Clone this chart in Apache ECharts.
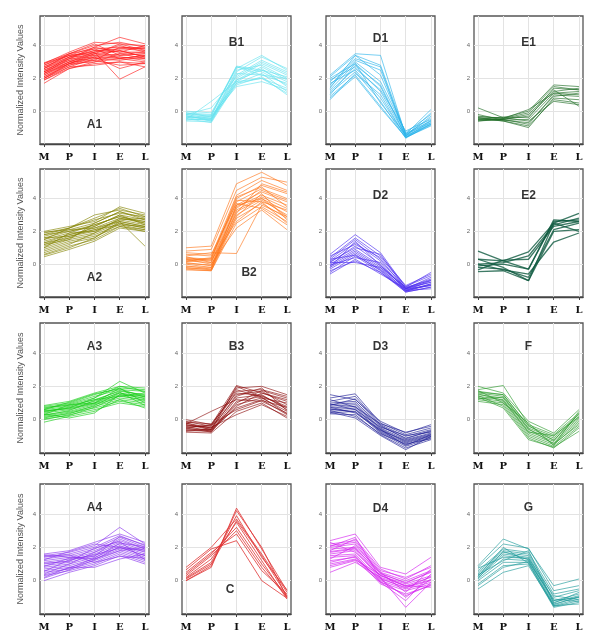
<!DOCTYPE html>
<html><head><meta charset="utf-8">
<script src="https://cdn.jsdelivr.net/npm/echarts@6/dist/echarts.min.js"></script>
<style>html,body{margin:0;padding:0;background:#fff}#c{width:600px;height:643px}</style>
</head><body><div id="c"></div><script>
// ---------- data ----------
const stages = ['M','P','I','E','L'];
const yTickValues = [0, 2, 4];
const panelNames = ['A1','B1','D1','E1','A2','B2','D2','E2','A3','B3','D3','F','A4','C','D4','G'];

const A1 = [
[2.9,3.6,4.2,4.1,4.0],[2.8,3.5,4.0,4.2,3.9],[2.7,3.4,3.9,4.5,4.1],[2.6,3.3,3.8,3.9,3.8],
[2.5,3.2,3.7,3.6,3.6],[2.4,3.1,3.6,3.8,3.7],[2.3,3.0,3.5,3.4,3.5],[2.2,2.9,3.4,3.7,3.3],
[2.1,2.8,3.3,3.5,3.2],[2.0,2.7,3.2,3.3,3.1],[1.9,2.6,3.0,3.2,3.0],[1.7,2.6,2.9,3.0,2.9],
[2.95,3.5,3.8,3.2,3.4],[2.6,3.2,3.3,2.6,3.0],[2.4,3.0,3.1,2.8,2.9],[2.2,3.0,3.6,1.95,2.7],
[2.0,2.8,3.1,3.9,3.8],[2.8,3.4,3.6,4.0,3.6],[2.5,3.1,3.2,3.1,3.3],[2.3,3.2,3.9,3.6,4.0],
[2.7,3.3,3.4,3.3,3.2],[2.1,2.9,3.5,4.1,3.7],[1.9,2.7,2.8,3.0,2.7],[2.6,3.5,4.1,3.4,3.5],
[2.4,3.3,3.7,3.8,3.9],[2.0,2.9,3.3,3.2,3.4],[2.9,3.4,3.5,3.7,3.3],[2.3,2.9,3.0,3.5,3.6]
];
const B1 = [
[-0.1,-0.2,2.75,2.5,1.8],[-0.2,-0.3,2.7,2.4,1.6],[-0.15,-0.25,2.7,2.2,2.0],[-0.3,-0.5,2.4,3.3,2.6],
[-0.4,-0.6,2.2,3.1,2.4],[-0.5,-0.5,2.0,2.9,2.2],[-0.35,-0.4,1.9,2.7,1.9],[-0.25,-0.6,1.8,2.6,1.5],
[-0.45,-0.7,1.7,2.3,1.2],[-0.55,-0.45,1.6,2.1,1.0],[-0.2,0.2,2.1,3.0,2.3],[-0.1,-0.35,1.5,1.8,1.3],
[-0.3,-0.55,2.3,2.2,1.7],[-0.6,-0.65,1.9,2.5,2.1],[0.0,-0.1,2.6,3.4,2.5],[-0.4,-0.3,1.7,2.0,1.4],
[-0.2,-0.45,2.5,2.8,2.0],[-0.5,0.6,1.8,2.0,1.1]
];
const D1 = [
[2.2,3.5,3.4,-1.5,-0.3],[2.1,3.4,2.8,-1.4,0.1],[1.8,3.2,2.7,-1.6,-0.6],[1.5,3.0,1.8,-1.3,-0.2],
[1.0,2.8,1.6,-1.5,-0.8],[1.2,2.6,1.3,-1.2,-0.5],[0.7,2.3,1.0,-1.6,-0.9],[1.7,2.5,0.8,-1.55,-0.7],
[2.0,2.9,0.5,-1.45,-0.4],[0.9,2.2,0.3,-1.6,-0.85],[1.4,3.4,2.2,-1.35,-0.6],[1.1,2.4,0.6,-1.65,-0.75],
[1.9,2.7,1.2,-1.5,-0.1],[1.6,3.1,2.5,-1.4,-0.7],[0.8,2.1,0.2,-1.6,-0.8],[1.3,2.9,1.5,-1.5,-0.55]
];
const E1 = [
[0.2,-0.4,0.0,1.6,1.5],[-0.3,-0.45,-0.1,1.5,1.3],[-0.4,-0.5,-0.3,1.2,1.4],[-0.5,-0.55,-0.5,1.1,1.2],
[-0.6,-0.5,-0.8,1.0,0.9],[-0.45,-0.6,-1.0,0.8,0.7],[-0.35,-0.4,-0.6,0.6,0.4],[-0.55,-0.5,-0.2,1.3,0.3],
[-0.2,-0.55,-0.7,0.9,1.1],[-0.6,-0.45,0.1,1.1,1.0],[-0.4,-0.6,-0.9,0.7,0.5],[-0.5,-0.35,-0.4,1.4,1.3]
];
const A2 = [
[2.0,2.3,2.6,3.5,3.1],[1.9,2.2,3.0,3.3,3.0],[1.8,2.2,2.8,3.4,2.9],[1.7,2.1,2.5,3.2,2.8],
[1.6,2.0,2.3,3.0,2.7],[1.5,1.9,2.4,2.9,2.6],[1.4,1.8,2.2,2.8,2.5],[1.3,1.8,2.1,2.7,2.4],
[1.2,1.7,2.0,2.6,2.3],[1.1,1.6,1.9,2.5,2.2],[1.0,1.5,1.8,2.4,2.1],[0.9,1.4,1.7,2.3,2.0],
[0.8,1.3,1.6,2.5,2.2],[0.6,1.1,1.5,2.3,2.1],[0.45,0.9,1.4,2.2,2.0],[1.95,2.1,2.2,2.6,1.1],
[1.5,2.2,2.7,3.1,2.9],[0.7,1.2,1.9,2.8,2.6],[1.3,1.6,2.3,3.0,2.4],[1.0,1.9,2.0,2.7,2.8],
[1.6,1.7,2.1,2.4,2.3],[1.8,2.0,2.4,2.9,2.5],[0.55,1.0,1.6,2.6,2.3],[1.2,1.5,2.5,3.2,2.7]
];
const B2 = [
[1.0,1.1,4.9,5.6,4.8],[0.8,0.9,4.5,5.3,5.0],[0.6,0.5,4.2,5.1,4.5],[0.4,0.3,4.0,4.8,4.3],
[0.3,0.2,3.8,4.6,4.0],[0.2,0.1,3.6,4.4,3.8],[0.1,-0.1,3.5,4.2,3.6],[0.0,-0.2,3.3,4.1,3.4],
[-0.1,-0.3,3.2,4.0,3.2],[-0.2,-0.35,3.0,3.9,3.0],[-0.3,-0.4,2.8,3.7,2.8],[-0.35,-0.4,2.5,3.5,2.6],
[0.5,0.7,0.65,3.6,2.9],[0.3,0.0,2.2,3.3,2.1],[0.2,0.4,3.9,3.8,2.5],[0.45,0.1,3.4,4.5,3.9],
[-0.15,-0.2,2.9,4.3,2.7],[0.7,0.6,3.7,3.4,2.4],[0.05,-0.05,3.1,4.9,4.4],[0.35,0.25,2.6,3.8,3.3],
[-0.25,-0.3,3.6,4.0,2.9],[0.15,0.35,4.1,4.7,3.5]
];
const D2 = [
[0.6,1.8,0.7,-1.4,-0.5],[0.4,1.6,0.5,-1.3,-0.6],[0.3,1.5,0.3,-1.5,-0.8],[0.2,1.3,0.2,-1.45,-0.9],
[0.1,1.1,0.0,-1.6,-1.0],[0.0,0.9,-0.1,-1.5,-1.1],[-0.1,0.8,-0.2,-1.65,-1.2],[-0.2,0.7,-0.3,-1.55,-1.3],
[-0.3,0.6,-0.4,-1.7,-1.4],[-0.5,0.5,-0.5,-1.6,-1.5],[-0.6,0.3,-0.6,-1.5,-1.3],[0.1,0.1,-0.2,-1.4,-1.0],
[-0.05,0.4,0.1,-1.6,-1.2],[0.5,1.2,0.4,-1.35,-0.7],[-0.4,0.2,-0.5,-1.7,-1.4],[0.15,1.0,0.6,-1.5,-0.95],
[-0.2,1.4,-0.1,-1.45,-1.1],[0.3,0.55,-0.35,-1.65,-1.25]
];
const E2 = [
[0.8,0.2,-0.3,2.7,2.6],[0.3,0.2,0.75,2.5,3.1],[0.0,0.1,0.5,2.4,2.8],[-0.1,0.0,-0.3,2.6,2.7],
[-0.2,-0.3,-0.8,2.1,2.5],[-0.45,-0.4,-1.0,2.0,2.1],[0.0,-0.35,-0.6,1.35,1.9],[0.3,-0.2,-1.0,2.5,2.0],
[-0.35,0.25,0.3,2.3,2.6]
];
const A3 = [
[0.85,1.1,1.6,2.0,1.9],[0.8,1.0,1.5,1.9,1.8],[0.7,0.95,1.4,1.8,1.7],[0.65,0.9,1.3,2.3,1.6],
[0.6,0.8,1.2,1.7,1.5],[0.5,0.75,1.1,1.6,1.4],[0.45,0.7,1.0,1.5,1.3],[0.4,0.6,0.95,1.4,1.2],
[0.3,0.5,0.9,1.3,1.1],[0.2,0.45,0.8,1.2,1.0],[0.1,0.4,0.7,1.1,0.9],[0.0,0.3,0.6,1.0,0.8],
[-0.15,0.2,0.5,1.2,0.7],[0.35,0.1,0.4,1.5,1.4],[0.55,0.65,1.0,1.9,1.0],[0.75,0.85,1.2,1.4,1.6],
[0.25,0.55,1.15,1.75,1.45],[0.15,0.35,0.85,1.6,1.25],[0.6,1.05,1.55,1.85,1.35],[0.05,0.25,0.75,1.45,1.15],
[0.5,0.7,1.3,2.0,1.7],[0.3,0.9,1.0,1.65,0.85]
];
const B3 = [
[0.0,-0.3,2.05,1.6,1.2],[-0.1,-0.4,1.9,2.0,1.5],[-0.2,-0.5,1.7,1.8,1.4],[-0.3,-0.6,1.5,1.7,0.9],
[-0.4,-0.7,1.3,1.5,0.6],[-0.5,-0.75,1.1,1.4,0.8],[-0.6,-0.65,0.9,1.3,0.5],[-0.7,-0.55,0.7,1.2,0.3],
[-0.75,-0.8,0.5,1.0,0.1],[-0.35,-0.45,0.3,0.9,0.2],[-0.25,0.5,1.2,1.1,0.4],[-0.45,-0.35,1.8,1.3,1.0],
[-0.55,-0.6,1.0,1.75,1.3],[-0.15,-0.25,1.6,1.45,0.7],[-0.65,-0.7,0.8,1.6,1.1],[-0.3,-0.5,1.4,1.9,0.55],
[-0.5,-0.3,0.6,1.15,0.75],[-0.2,-0.6,2.0,1.35,0.35]
];
const D3 = [
[1.5,1.2,-0.1,-0.8,-0.3],[1.3,1.55,-0.2,-0.9,-0.5],[1.1,1.4,-0.3,-1.0,-0.6],[1.0,1.1,-0.4,-1.1,-0.7],
[0.9,1.0,-0.5,-1.2,-0.8],[0.8,0.9,-0.55,-1.3,-0.9],[0.7,0.8,-0.6,-1.35,-0.95],[0.6,0.7,-0.7,-1.4,-1.0],
[0.5,0.6,-0.75,-1.5,-1.05],[0.4,0.5,-0.8,-1.6,-1.1],[0.35,0.3,-0.9,-1.7,-1.2],[0.45,0.1,-0.95,-1.8,-1.0],
[0.75,0.4,-0.65,-1.25,-0.85],[0.55,0.2,-0.85,-1.45,-1.15],[0.95,0.6,-0.45,-0.95,-0.75],[0.85,1.25,-0.35,-1.15,-0.65],
[0.65,0.45,-0.6,-1.55,-0.9],[1.2,0.75,-0.25,-0.75,-0.4]
];
const F = [
[2.0,1.6,-0.1,-0.8,0.6],[1.8,2.05,-0.3,-0.9,0.4],[1.7,1.5,-0.4,-1.0,0.3],[1.6,1.4,-0.5,-1.1,0.2],
[1.5,1.3,-0.6,-1.2,0.1],[1.4,1.2,-0.7,-1.3,0.0],[1.3,1.1,-0.8,-1.4,-0.1],[1.2,1.0,-0.9,-1.5,-0.2],
[1.1,0.9,-1.0,-1.6,-0.4],[1.35,0.7,-1.2,-1.65,-0.7],[1.75,1.0,-0.2,-1.55,0.5],[1.45,0.8,-1.1,-1.7,-0.5],
[1.65,1.5,-0.35,-1.25,0.35],[1.25,1.35,-0.55,-1.45,-0.3],[1.55,1.15,-0.75,-0.95,0.15]
];
const A4 = [
[1.6,1.8,2.3,2.8,2.3],[1.5,1.7,2.1,3.2,2.2],[1.4,1.6,2.0,2.7,2.1],[1.3,1.5,1.9,2.6,2.0],
[1.2,1.4,1.8,2.4,1.9],[1.1,1.3,1.7,2.3,1.8],[1.0,1.2,1.6,2.2,1.7],[0.9,1.1,1.5,2.1,1.6],
[0.8,1.0,1.4,2.0,1.5],[0.7,0.9,1.3,1.9,1.4],[0.6,0.8,1.2,1.8,1.3],[0.5,0.7,1.1,1.7,1.2],
[0.3,0.6,1.0,1.6,1.1],[0.0,0.5,0.9,1.5,1.0],[0.2,0.8,0.8,1.3,1.6],[1.55,1.4,1.3,1.8,2.0],
[0.4,1.0,1.7,2.5,1.9],[1.25,1.75,2.2,2.0,1.5],[0.85,1.35,1.45,2.65,2.15],[0.15,0.65,1.25,2.05,1.75],
[1.05,1.15,1.95,2.35,1.25],[0.55,1.25,1.55,1.95,1.85],[1.45,1.55,1.1,1.45,1.35],[0.35,0.75,1.35,2.25,2.05]
];
const C = [
[0.0,0.8,4.35,1.9,-0.6],[0.0,0.9,4.2,2.0,-1.0],[0.1,1.0,3.6,1.5,-0.9],[0.2,1.3,3.5,1.2,-1.1],
[0.3,1.5,3.0,0.8,-1.0],[0.5,1.7,2.8,0.6,-0.8],[0.65,1.9,2.4,0.0,-1.05],[0.8,2.0,3.7,1.6,-0.7],
[0.4,1.6,3.2,1.0,-0.95],[0.15,1.1,3.9,1.4,-0.55]
];
const D4 = [
[2.4,2.8,0.8,0.4,1.4],[2.2,2.4,0.6,0.2,0.8],[2.1,2.3,0.5,0.0,0.6],[2.0,2.2,0.4,-0.1,0.5],
[1.9,2.0,0.3,-0.2,0.3],[1.7,1.9,0.2,-0.3,0.2],[1.6,1.8,0.1,-0.4,0.0],[1.5,1.6,0.0,-0.5,-0.1],
[1.4,1.5,-0.1,-0.6,-0.2],[1.2,1.4,-0.2,-0.8,-0.3],[1.0,1.3,0.1,-1.0,0.1],[0.8,1.2,-0.1,-1.2,0.4],
[0.5,1.1,0.2,-1.6,-0.1],[1.8,2.5,0.7,0.1,0.9],[2.3,1.7,0.3,-0.3,-0.4],[1.3,2.1,0.5,-0.7,0.7],
[1.1,1.45,-0.05,-0.9,-0.25],[1.75,1.95,0.45,-0.15,0.55],[2.05,2.6,0.15,-0.45,0.25],[0.9,1.25,0.35,-0.35,0.05]
];
const G = [
[0.9,2.5,1.9,-0.3,0.1],[0.8,2.2,1.95,-0.6,-0.3],[0.6,1.9,1.7,-0.8,-0.5],[0.5,1.8,1.6,-1.0,-0.6],
[0.4,1.7,1.5,-1.2,-0.8],[0.3,1.6,1.4,-1.3,-0.9],[0.2,1.5,1.3,-1.4,-1.0],[0.1,1.3,1.2,-1.5,-1.1],
[0.0,1.1,1.1,-1.55,-1.2],[-0.2,0.9,1.0,-1.6,-1.3],[-0.5,0.5,0.9,-1.5,-1.4],[0.15,1.75,1.25,-1.2,-1.0],
[0.35,1.2,1.8,-1.35,-0.7],[0.75,1.4,1.35,-0.9,-1.15],[0.25,2.0,1.05,-1.45,-0.95],[-0.3,0.8,1.15,-1.1,-1.25]
];
const panelData = {A1,B1,D1,E1,A2,B2,D2,E2,A3,B3,D3,F,A4,C,D4,G};

// ---------- layout & style ----------
const colLeft = [40, 182, 326, 474];
const rowTop = [16, 169, 323, 484];
const rowHeight = [128, 128, 130, 130];
const panelWidth = 109;
const panelColor = {
  A1:'#ff1a1a', B1:'#66e3ef', D1:'#2ab4ea', E1:'#1d6b22',
  A2:'#838300', B2:'#ff7518', D2:'#4b2cf0', E2:'#0f5a40',
  A3:'#14cc14', B3:'#8c0c0c', D3:'#1e1e96', F:'#2b9a2b',
  A4:'#8a35ee', C:'#e03535', D4:'#d31cf0', G:'#1a9898'
};
const lineWidth = {E2:1.3, C:1.0};
const titleAt = {
  A1:[2,-0.8], B1:[2,4.2], D1:[2,4.4], E1:[2,4.2],
  A2:[2,-0.8], B2:[2.5,-0.5], D2:[2,4.2], E2:[2,4.2],
  A3:[2,4.35], B3:[2,4.35], D3:[2,4.35], F:[2,4.4],
  A4:[2,4.35], C:[1.75,-0.55], D4:[2,4.3], G:[2,4.35]
};

const grids = [], xAxes = [], yAxes = [], series = [];
panelNames.forEach((name, i) => {
  const r = Math.floor(i / 4), c = i % 4;
  grids.push({left: colLeft[c], top: rowTop[r], width: panelWidth, height: rowHeight[r],
    show: true, borderColor: '#555', borderWidth: 1.3, backgroundColor: 'transparent'});
  xAxes.push({gridIndex: i, type: 'value', min: -0.16, max: 4.16,
    axisLine: {show: true, onZero: false, lineStyle: {color: '#444', width: 1.3}},
    axisTick: {show: true, customValues: [0,1,2,3,4], length: 3, lineStyle: {color: '#444'}},
    axisLabel: {customValues: [0,1,2,3,4], formatter: v => stages[Math.round(v)],
      fontFamily: 'DejaVu Serif', fontWeight: 'bold', fontSize: 10, color: '#111', margin: 8},
    splitLine: {show: true, lineStyle: {color: '#e3e3e3', width: 1}}});
  yAxes.push({gridIndex: i, type: 'value', min: -2, max: 5.8,
    axisLine: {show: false},
    axisTick: {show: false, customValues: yTickValues},
    axisLabel: {customValues: yTickValues, fontSize: 6, color: '#666', margin: 4},
    splitLine: {show: true, lineStyle: {color: '#e3e3e3', width: 1}},
    name: c === 0 ? 'Normalized Intensity Values' : '',
    nameLocation: 'middle', nameGap: 15,
    nameTextStyle: {fontSize: 9, color: '#555', fontFamily: 'Liberation Sans'}});
  panelData[name].forEach(vals => {
    series.push({type: 'line', xAxisIndex: i, yAxisIndex: i, silent: true,
      symbol: 'none', animation: false,
      data: vals.map((v, k) => [k, v]),
      lineStyle: {color: panelColor[name], width: lineWidth[name] || 0.8, opacity: 0.8}});
  });
  series.push({type: 'scatter', xAxisIndex: i, yAxisIndex: i, silent: true, animation: false,
    symbolSize: 0, itemStyle: {color: 'rgba(0,0,0,0)'}, z: 10,
    data: [titleAt[name]],
    label: {show: true, position: 'inside', formatter: name, fontSize: 12, fontWeight: 'bold',
      color: '#000', fontFamily: 'Liberation Sans'}});
});

const chart = echarts.init(document.getElementById('c'), null, {renderer: 'canvas'});
chart.setOption({animation: false, backgroundColor: '#fff',
  grid: grids, xAxis: xAxes, yAxis: yAxes, series: series});
</script></body></html>
